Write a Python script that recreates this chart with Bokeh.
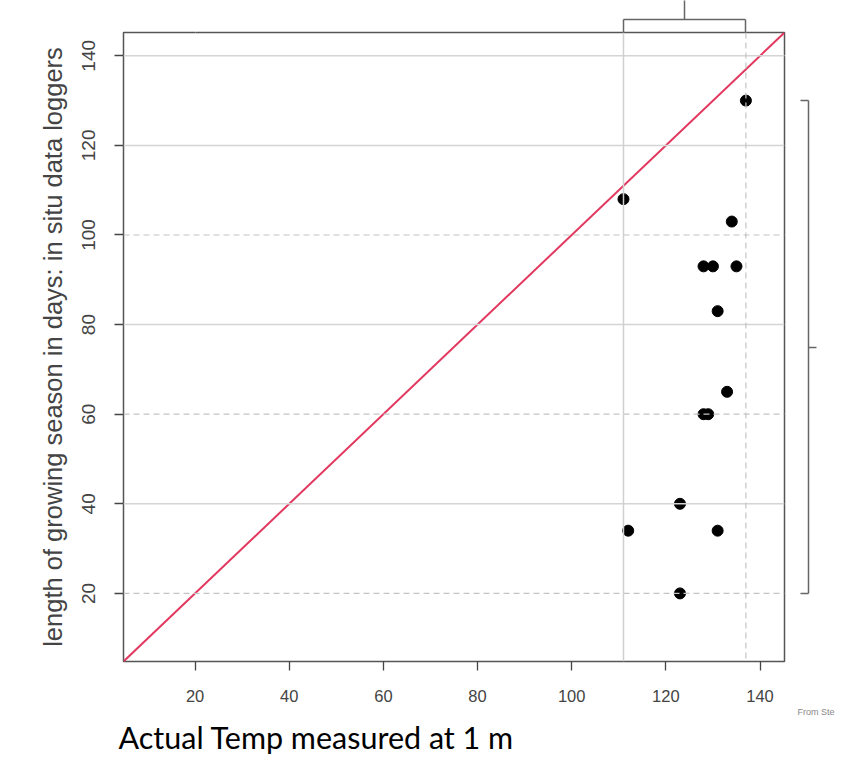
from bokeh.plotting import figure
from bokeh.models import Range1d, Span, Title, LinearAxis, FixedTicker
from bokeh.embed import file_html
from bokeh.resources import INLINE

# ---- data ----
x_vals = [111, 134, 128, 130, 135, 131, 133, 128, 129, 123, 112, 131, 123, 137]
y_vals = [108, 103, 93, 93, 93, 83, 65, 60, 60, 40, 34, 34, 20, 130]
x_ticks = [20, 40, 60, 80, 100, 120, 140]
y_ticks = [20, 40, 60, 80, 100, 120, 140]
solid_grid = [40, 80, 120, 140]
dashed_grid = [20, 60, 100]
axis_limits = [10, 140]
x_title = "Actual Temp measured at 1 m"
y_title = "length of growing season in days: in situ data loggers"
source_note = "From Ste"

pad = 0.04 * (axis_limits[1] - axis_limits[0])
lo, hi = axis_limits[0] - pad, axis_limits[1] + pad

p = figure(output_backend="svg", toolbar_location=None,
           frame_width=661, frame_height=629,
           min_border_left=123, min_border_right=64,
           min_border_top=32, min_border_bottom=110,
           x_range=Range1d(lo, hi), y_range=Range1d(lo, hi),
           background_fill_color="white", border_fill_color="white")

p.grid.visible = False
p.outline_line_color = "#555555"
p.outline_line_width = 1.5

# grid-like reference lines
for v in solid_grid:
    p.add_layout(Span(location=v, dimension="width", line_color="#d4d4d4", line_width=1.5))
for v in dashed_grid:
    p.add_layout(Span(location=v, dimension="width", line_color="#c4c4c4", line_width=1.2, line_dash="6 4"))
p.add_layout(Span(location=min(x_vals), dimension="height", line_color="#d0d0d0", line_width=1.5))
p.add_layout(Span(location=max(x_vals), dimension="height", line_color="#c4c4c4", line_width=1.2, line_dash="6 4"))

# 1:1 line
p.line(x=[lo, hi], y=[lo, hi], line_color="#e2385f", line_width=2)

# points
p.scatter(x=x_vals, y=y_vals, size=11, fill_color="black", line_color="black")

# axes
p.xaxis.ticker = x_ticks
p.yaxis.ticker = y_ticks
for ax in (p.xaxis, p.yaxis):
    ax.axis_line_color = None
    ax.major_tick_line_color = "#444444"
    ax.major_tick_line_width = 1.3
    ax.major_tick_out = 9
    ax.major_tick_in = 0
    ax.minor_tick_line_color = None
    ax.major_label_text_font = "Liberation Sans"
    ax.major_label_text_color = "#444444"
p.xaxis.major_label_text_font_size = "16.5px"
p.yaxis.major_label_text_font_size = "19px"
p.xaxis.major_label_standoff = 19
p.yaxis.major_label_standoff = 19
p.yaxis.major_label_orientation = "vertical"
p.yaxis.axis_label = y_title
p.yaxis.axis_label_text_font = "Liberation Sans"
p.yaxis.axis_label_text_font_size = "25.5px"
p.yaxis.axis_label_text_font_style = "normal"
p.yaxis.axis_label_text_color = "#444444"
p.yaxis.axis_label_standoff = 13

# brackets outside the frame, drawn as bounded axes (minor ticks only, no labels)
bc = "#666666"
xmin, xmax = min(x_vals), max(x_vals)
ymin, ymax = min(y_vals), max(y_vals)


def spacer(size, at):
    # invisible axis whose only job is to push the bracket away from the frame
    return LinearAxis(ticker=FixedTicker(ticks=[at], minor_ticks=[]), axis_line_color=None,
                      major_tick_line_color="white", major_tick_line_width=0.5,
                      minor_tick_line_color=None,
                      major_tick_out=size, major_tick_in=0, minor_tick_out=0,
                      major_label_standoff=0, major_label_overrides={at: ""},
                      major_label_text_color=None, major_label_text_font_size="1px")


def bracket_ends(lo_v, hi_v, tick_in):
    return LinearAxis(ticker=FixedTicker(ticks=[], minor_ticks=[lo_v, hi_v]),
                      bounds=(lo_v, hi_v), axis_line_color=bc, axis_line_width=1.5,
                      major_tick_out=0, major_tick_in=0,
                      minor_tick_line_color=bc, minor_tick_line_width=1.5,
                      minor_tick_in=tick_in, minor_tick_out=0)


def bracket_mid(lo_v, hi_v, tick_out):
    return LinearAxis(ticker=FixedTicker(ticks=[], minor_ticks=[(lo_v + hi_v) / 2]),
                      axis_line_color=None, major_tick_out=0, major_tick_in=0,
                      minor_tick_line_color=bc, minor_tick_line_width=1.5,
                      minor_tick_in=0, minor_tick_out=tick_out)


p.add_layout(spacer(13, x_ticks[0]), "above")
p.add_layout(bracket_ends(xmin, xmax, 13), "above")
p.add_layout(bracket_mid(xmin, xmax, 19), "above")
p.add_layout(spacer(24, y_ticks[-1]), "right")
p.add_layout(bracket_ends(ymin, ymax, 8), "right")
p.add_layout(bracket_mid(ymin, ymax, 8), "right")

note = Title(text=source_note, align="right", text_font="Liberation Sans",
             text_font_size="9px", text_font_style="normal", text_color="#888888",
             offset=-50, standoff=0)
p.add_layout(note, "below")

t = Title(text=x_title, align="left", text_font="Lato", text_font_size="30.5px",
          text_font_style="normal", text_color="black", offset=-5, standoff=0)
p.add_layout(t, "below")

open("out.html", "w").write(file_html(p, INLINE))
